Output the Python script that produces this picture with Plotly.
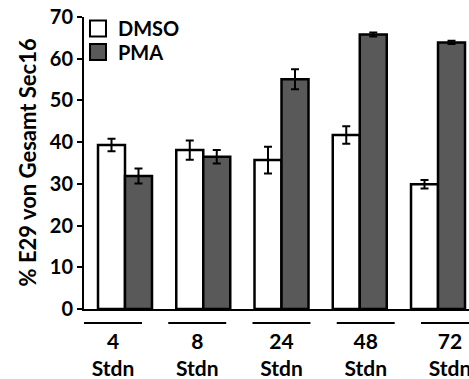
import plotly.graph_objects as go

categories = ["4<br>Stdn", "8<br>Stdn", "24<br>Stdn", "48<br>Stdn", "72<br>Stdn"]
dmso = [39.3, 38.1, 35.7, 41.7, 29.9]
dmso_err = [1.5, 2.3, 3.2, 2.1, 1.0]
pma = [31.9, 36.5, 55.1, 65.8, 63.9]
pma_err = [1.8, 1.6, 2.4, 0.5, 0.4]
y_ticks = [0, 10, 20, 30, 40, 50, 60, 70]
y_title = "% E29 von Gesamt Sec16"

FONT = dict(family="Lato", size=20, color="black", weight="bold")
pos = list(range(len(categories)))

fig = go.Figure()
fig.add_trace(go.Bar(x=pos, y=dmso, name="DMSO", showlegend=False,
                     marker=dict(color="white", line=dict(color="black", width=2.5)),
                     error_y=dict(type="data", array=dmso_err, color="black", thickness=2, width=4)))
fig.add_trace(go.Bar(x=pos, y=pma, name="PMA", showlegend=False,
                     marker=dict(color="#595959", line=dict(color="black", width=2.5)),
                     error_y=dict(type="data", array=pma_err, color="black", thickness=2, width=4)))
# legend entries
fig.add_trace(go.Scatter(x=[None], y=[None], mode="markers", name="DMSO", legend="legend",
                         marker=dict(symbol="square", size=16, color="white", line=dict(color="black", width=2))))
fig.add_trace(go.Scatter(x=[None], y=[None], mode="markers", name="PMA", legend="legend2",
                         marker=dict(symbol="square", size=16, color="#595959", line=dict(color="black", width=2))))
# category label axis
fig.add_trace(go.Scatter(x=categories, y=[None]*len(categories), xaxis="x2", mode="markers",
                         showlegend=False, hoverinfo="skip"))

label_pos = 0.1547
for i, c in enumerate(categories):
    fig.add_shape(type="line", xref="x2", yref="paper", x0=i - 0.344, x1=i + 0.344,
                  y0=label_pos, y1=label_pos, line=dict(color="black", width=2))

fig.add_annotation(text=y_title, textangle=-90, xref="paper", yref="paper",
                   x=-0.147, y=0.5994, xanchor="center", yanchor="middle", showarrow=False,
                   font=dict(family="Lato", size=22, color="black", weight="bold"))

leg = dict(xanchor="left", yanchor="middle", xref="container", yref="container",
           bgcolor="rgba(0,0,0,0)", font=FONT, itemwidth=30)
fig.update_layout(
    width=469, height=379,
    margin=dict(l=84, r=0, t=17, b=0, autoexpand=False),
    paper_bgcolor="white", plot_bgcolor="white",
    barmode="group", bargap=0.31, bargroupgap=0,
    font=FONT,
    showlegend=True,
    legend=dict(x=0.1663, y=0.9248, **leg),
    legend2=dict(x=0.1663, y=0.8628, **leg),
    xaxis=dict(range=[-0.524, 4.396], showticklabels=False, ticks="", showline=True,
               linecolor="black", linewidth=2, showgrid=False, zeroline=False),
    xaxis2=dict(type="category", overlaying="x", anchor="free", position=label_pos,
                range=[-0.344, 4.226], showline=False, ticks="", showgrid=False,
                tickfont=dict(family="Lato", size=21, color="black", weight="bold"),
                side="bottom", ticklabelstandoff=4, automargin=False),
    yaxis=dict(domain=[0.1934, 1], range=[0, 70], tickvals=y_ticks, ticks="outside", ticklen=5,
               tickwidth=2, tickcolor="black", showline=True, linecolor="black", linewidth=2,
               showgrid=False, zeroline=False, tickfont=FONT, automargin=False),
)

fig.write_html("out.html", config={"displayModeBar": False},
               post_script="document.body.style.margin='0';document.body.style.overflow='hidden';")
